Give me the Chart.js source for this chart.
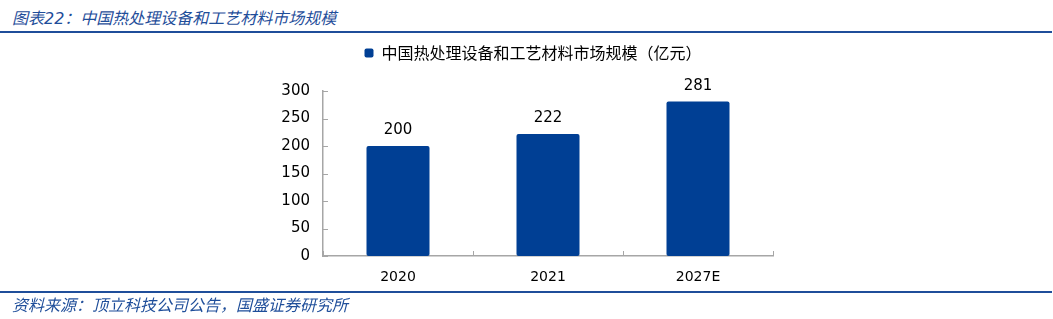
<!DOCTYPE html>
<html>
<head>
<meta charset="utf-8">
<script src="https://cdn.jsdelivr.net/npm/chart.js@4.4.1/dist/chart.umd.min.js"></script>
<style>
  html, body { margin: 0; padding: 0; background: #fff; }
  #wrap { position: relative; width: 1053px; height: 319px; overflow: hidden; }
  #title { position: absolute; left: 12px; top: 5px; font: italic 16px "DejaVu Sans", "Noto Sans CJK SC", sans-serif; color: #1F4E9A; white-space: nowrap; }
  #foot { position: absolute; left: 12px; top: 292px; font: italic 16px "DejaVu Sans", "Noto Sans CJK SC", sans-serif; color: #1F4E9A; white-space: nowrap; }
  .rule { position: absolute; left: 0; width: 1052px; height: 2px; background: #1F4E9A; }
  canvas { position: absolute; left: 0; top: 0; }
</style>
</head>
<body>
<div id="wrap">
  <div id="title">图表22：中国热处理设备和工艺材料市场规模</div>
  <div class="rule" style="top:31px"></div>
  <canvas id="c" width="1053" height="319"></canvas>
  <div class="rule" style="top:291px"></div>
  <div id="foot">资料来源：顶立科技公司公告，国盛证券研究所</div>
</div>
<script>
const categories = ["2020", "2021", "2027E"];
const seriesName = "中国热处理设备和工艺材料市场规模（亿元）";
const values = [200, 222, 281];
const yTicks = [0, 50, 100, 150, 200, 250, 300];

const BAR = "#003F94";
const AXIS = "#A6A6A6";

const legendTweak = {
  id: "legendTweak",
  beforeLayout(chart) {
    const lg = chart.legend;
    if (lg && !lg._wrapped) {
      const origFit = lg.fit;
      lg.fit = function () { origFit.call(this); this.height = 77; };
      const origDraw = lg.draw;
      lg.draw = function () {
        const ctx = this.ctx;
        ctx.save();
        ctx.translate(10, 1);
        origDraw.call(this);
        ctx.restore();
      };
      lg._wrapped = true;
    }
  }
};

const inwardTicks = {
  id: "inwardTicks",
  afterDatasetsDraw(chart) {
    const ctx = chart.ctx;
    const x = chart.scales.x, y = chart.scales.y;
    ctx.save();
    ctx.strokeStyle = AXIS;
    ctx.lineWidth = 1;
    yTicks.forEach(v => {
      const py = Math.round(y.getPixelForValue(v)) + 0.5;
      ctx.beginPath();
      ctx.moveTo(x.left, py);
      ctx.lineTo(x.left + 5, py);
      ctx.stroke();
    });
    for (let i = 0; i <= categories.length; i++) {
      const px = Math.round(x.getPixelForValue(i - 0.5)) + 0.5;
      ctx.beginPath();
      ctx.moveTo(px, y.bottom);
      ctx.lineTo(px, y.bottom - 5);
      ctx.stroke();
    }
    ctx.restore();
  }
};

const valueLabels = {
  id: "valueLabels",
  afterDatasetsDraw(chart) {
    const ctx = chart.ctx;
    const meta = chart.getDatasetMeta(0);
    ctx.save();
    ctx.font = '15px "DejaVu Sans", sans-serif';
    ctx.fillStyle = "#000";
    ctx.textAlign = "center";
    ctx.textBaseline = "bottom";
    meta.data.forEach((bar, i) => {
      ctx.fillText(String(values[i]), bar.x, bar.y - 8);
    });
    ctx.restore();
  }
};

new Chart(document.getElementById("c"), {
  type: "bar",
  data: {
    labels: categories,
    datasets: [{
      label: seriesName,
      data: values,
      backgroundColor: BAR,
      borderRadius: 2,
      borderSkipped: false,
      categoryPercentage: 1,
      barPercentage: 0.42
    }]
  },
  options: {
    responsive: false,
    animation: false,
    devicePixelRatio: 1,
    layout: { padding: { left: 273, right: 280, top: 14, bottom: 33 } },
    plugins: {
      legend: {
        display: true,
        position: "top",
        align: "center",
        labels: {
          boxWidth: 9,
          boxHeight: 9,
          useBorderRadius: true,
          borderRadius: 2,
          padding: 30,
          color: "#000",
          font: { family: '"Noto Sans CJK SC", sans-serif', size: 16 }
        }
      },
      tooltip: { enabled: false }
    },
    scales: {
      x: {
        offset: true,
        grid: { display: false, drawTicks: false },
        border: { display: true, color: AXIS, width: 1.5 },
        ticks: { color: "#000", padding: 13, font: { family: '"DejaVu Sans", sans-serif', size: 14 } },
        afterFit(s) { s.height = 30; }
      },
      y: {
        min: 0, max: 300,
        afterBuildTicks(s) { s.ticks = yTicks.map(v => ({ value: v })); },
        grid: { display: false, drawTicks: false },
        border: { display: true, color: AXIS, width: 1.5 },
        ticks: { color: "#000", padding: 13, font: { family: '"DejaVu Sans", sans-serif', size: 15 } },
        afterFit(s) { s.width = 50; }
      }
    }
  },
  plugins: [legendTweak, inwardTicks, valueLabels]
});
</script>
</body>
</html>
